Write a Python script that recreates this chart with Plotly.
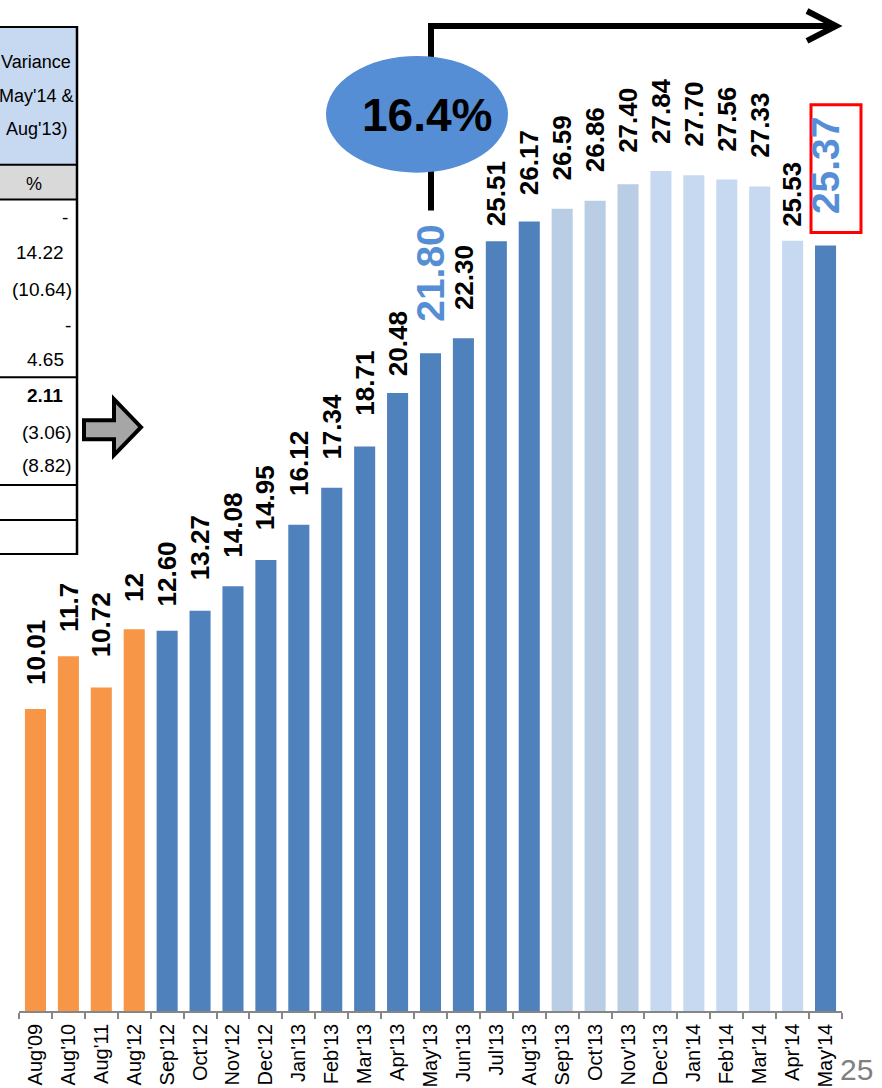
import plotly.graph_objects as go

# ---------------- data ----------------
categories = ["Aug'09", "Aug'10", "Aug'11", "Aug'12", "Sep'12", "Oct'12", "Nov'12",
              "Dec'12", "Jan'13", "Feb'13", "Mar'13", "Apr'13", "May'13", "Jun'13",
              "Jul'13", "Aug'13", "Sep'13", "Oct'13", "Nov'13", "Dec'13", "Jan'14",
              "Feb'14", "Mar'14", "Apr'14", "May'14"]
values = [10.01, 11.76, 10.72, 12.65, 12.60, 13.27, 14.08, 14.95, 16.12, 17.34,
          18.71, 20.48, 21.80, 22.30, 25.51, 26.17, 26.59, 26.86, 27.40, 27.84,
          27.70, 27.56, 27.33, 25.53, 25.37]
value_labels = ["10.01", "11.7", "10.72", "12", "12.60", "13.27", "14.08", "14.95",
                "16.12", "17.34", "18.71", "20.48", "21.80", "22.30", "25.51", "26.17",
                "26.59", "26.86", "27.40", "27.84", "27.70", "27.56", "27.33", "25.53",
                "25.37"]
highlighted = ["May'13", "May'14"]
growth_label = "16.4%"
table_header = ["Variance", "May'14 &", "Aug'13)"]
table_unit = "%"
table_values = ["-", "14.22", "(10.64)", "-", "4.65", "2.11", "(3.06)", "(8.82)"]
table_bold = [False, False, False, False, False, True, False, False]
page_number = "25"

# ---------------- styles ----------------
ORANGE, DARK, MID, LIGHT = "#F79646", "#4F81BD", "#B9CDE5", "#C6D9F1"
bar_colors = [ORANGE] * 4 + [DARK] * 12 + [MID] * 3 + [LIGHT] * 5 + [DARK]
label_gap_px = [22, 22, 28, 25, 22, 28, 27, 28, 27, 26, 29, 15, 29, 26, 13, 24,
                26, 26, 29, 25, 27, 26, 27, 12, 29]

W, H = 882, 1088
ML, MR, MT, MB = 19, 40, 0, 75
PW, PH = W - ML - MR, H - MT - MB
PX_PER_UNIT = 30.23


def px(x):
    return (x - ML) / PW


def py(y):
    return (H - MB - y) / PH


SANS = "Liberation Sans, Arial, sans-serif"
NARROW = "Liberation Sans Narrow, Arial Narrow, Liberation Sans, sans-serif"

fig = go.Figure()
fig.add_trace(go.Bar(x=categories, y=values, marker=dict(color=bar_colors, line=dict(width=0)),
                     hoverinfo="skip"))

annotations = []
for cat, val, lab, gap in zip(categories, values, value_labels, label_gap_px):
    hl = cat in highlighted
    annotations.append(dict(
        x=cat, y=val, xref="x", yref="y", text=f"<b>{lab}</b>", showarrow=False,
        textangle=-90, yanchor="bottom", xanchor="center", yshift=gap,
        font=dict(family=SANS, size=39 if hl else 26,
                  color="#558ED5" if hl else "#000000"),
    ))

shapes = []
# ---- partial table on the left ----
shapes.append(dict(type="rect", xref="paper", yref="paper", x0=px(-5), x1=px(77),
                   y0=py(165), y1=py(27), fillcolor="#C6D9F1", line=dict(width=0)))
shapes.append(dict(type="rect", xref="paper", yref="paper", x0=px(-5), x1=px(77),
                   y0=py(200), y1=py(165), fillcolor="#D9D9D9", line=dict(width=0)))
for yy in [27, 165, 200, 378, 486, 521, 555]:
    shapes.append(dict(type="line", xref="paper", yref="paper", x0=px(-5), x1=px(78),
                       y0=py(yy), y1=py(yy), line=dict(color="#000000", width=2)))
shapes.append(dict(type="line", xref="paper", yref="paper", x0=px(77), x1=px(77),
                   y0=py(26), y1=py(556), line=dict(color="#000000", width=2.5)))

# ---- block arrow ----
pts = [(84, 421), (114, 421), (114, 400), (141, 428), (114, 456), (114, 440), (84, 440)]
path = "M " + " L ".join(f"{px(a):.5f},{py(b):.5f}" for a, b in pts) + " Z"
shapes.append(dict(type="path", xref="paper", yref="paper", path=path,
                   fillcolor="#A6A6A6", line=dict(color="#000000", width=4)))

# ---- bracket with arrow ----
br = [(431, 211), (431, 26), (834, 26)]
shapes.append(dict(type="path", xref="paper", yref="paper",
                   path="M " + " L ".join(f"{px(a):.5f},{py(b):.5f}" for a, b in br),
                   line=dict(color="#000000", width=6)))
hd = [(807, 11), (836, 26), (807, 41)]
shapes.append(dict(type="path", xref="paper", yref="paper",
                   path="M " + " L ".join(f"{px(a):.5f},{py(b):.5f}" for a, b in hd),
                   line=dict(color="#000000", width=6)))

# ---- ellipse ----
shapes.append(dict(type="circle", xref="paper", yref="paper", x0=px(326), x1=px(508),
                   y0=py(173), y1=py(56), fillcolor="#558ED5", line=dict(width=0)))

# ---- red box ----
shapes.append(dict(type="rect", xref="paper", yref="paper", x0=px(811), x1=px(861),
                   y0=py(233), y1=py(105), line=dict(color="#FF0000", width=3)))

annotations.append(dict(x=px(427), y=py(115), xref="paper", yref="paper",
                        xanchor="center", yanchor="middle",
                        text=f"<b>{growth_label}</b>", showarrow=False,
                        font=dict(family=SANS, size=46, color="#000000")))

# table texts
for t, yy in zip(table_header, [62, 96, 129]):
    annotations.append(dict(x=px(36), y=py(yy), xref="paper", yref="paper", text=t,
                            showarrow=False, xanchor="center", yanchor="middle",
                            font=dict(family=NARROW, size=18, color="#000000")))
annotations.append(dict(x=px(34), y=py(184), xref="paper", yref="paper", text=table_unit,
                        showarrow=False, xanchor="center", yanchor="middle",
                        font=dict(family=NARROW, size=18, color="#000000")))
row_y = [218, 253, 290, 326, 360, 396, 433, 466]
row_right = [70, 66, 74, 73, 66, 65, 74, 74]
for t, yy, xr, b in zip(table_values, row_y, row_right, table_bold):
    annotations.append(dict(x=px(xr), y=py(yy), xref="paper", yref="paper",
                            text=f"<b>{t}</b>" if b else t, showarrow=False,
                            xanchor="right", yanchor="middle",
                            font=dict(family=NARROW, size=19, color="#000000")))

annotations.append(dict(x=px(856), y=py(1072), xref="paper", yref="paper", text=page_number,
                        showarrow=False, xanchor="center", yanchor="middle",
                        font=dict(family=NARROW, size=30, color="#808080")))

fig.update_layout(
    width=W, height=H,
    margin=dict(l=ML, r=MR, t=MT, b=MB, pad=0),
    paper_bgcolor="#FFFFFF", plot_bgcolor="#FFFFFF",
    showlegend=False, bargap=0.36,
    shapes=shapes, annotations=annotations,
    xaxis=dict(type="category", range=[-0.5, len(categories) - 0.5],
               showline=True, linecolor="#868686", linewidth=1.5,
               ticks="outside", ticklen=6, tickcolor="#868686", tickwidth=1.5,
               tickson="boundaries", tickangle=-90, showgrid=False,
               ticklabelstandoff=3,
               tickfont=dict(family=SANS, size=20, color="#000000")),
    yaxis=dict(visible=False, range=[0, (H - MB - MT) / PX_PER_UNIT], showgrid=False,
               zeroline=False),
)

fig.write_html("out.html")
